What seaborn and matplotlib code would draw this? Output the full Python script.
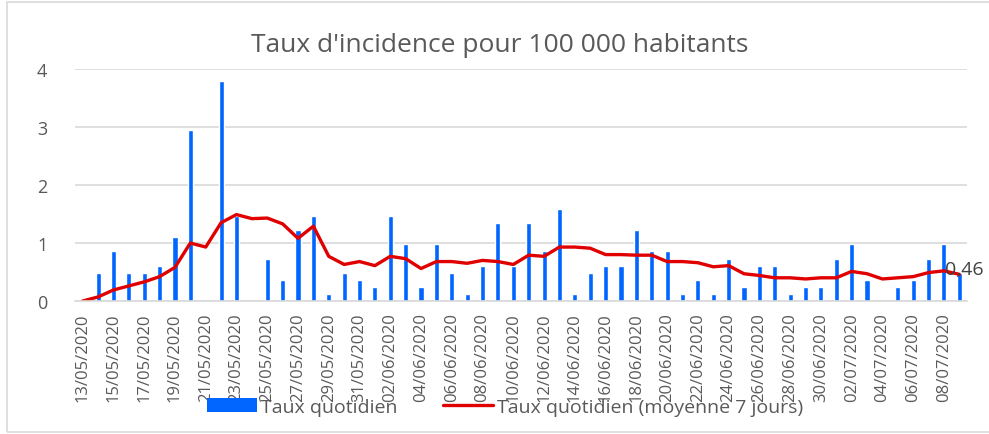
import numpy as np
import pandas as pd
import matplotlib
matplotlib.use("Agg")
import matplotlib.pyplot as plt
import seaborn as sns
from matplotlib.patches import Rectangle, Patch
from matplotlib.lines import Line2D

# dates du 13/05/2020 au 09/07/2020
dates = [d.strftime("%d/%m/%Y") for d in pd.date_range("2020-05-13", "2020-07-09")]

# taux quotidien (pour 100 000 habitants)
taux = [0, 0.49, 0.86, 0.49, 0.49, 0.61, 1.10, 2.94, 0, 3.79,
        1.47, 0, 0.73, 0.37, 1.22, 1.47, 0.12, 0.49, 0.37, 0.24,
        1.47, 0.98, 0.24, 0.98, 0.49, 0.12, 0.61, 1.35, 0.61, 1.35,
        0.86, 1.59, 0.12, 0.49, 0.61, 0.61, 1.22, 0.86, 0.86, 0.12,
        0.37, 0.12, 0.73, 0.24, 0.61, 0.61, 0.12, 0.24, 0.24, 0.73,
        0.98, 0.37, 0, 0.24, 0.37, 0.73, 0.98, 0.49]

# moyenne 7 jours
moyenne = [0, 0.07, 0.19, 0.26, 0.33, 0.42, 0.58, 1.00, 0.93, 1.35,
           1.49, 1.42, 1.43, 1.33, 1.08, 1.29, 0.77, 0.63, 0.68, 0.61,
           0.77, 0.73, 0.56, 0.68, 0.68, 0.65, 0.70, 0.68, 0.63, 0.79,
           0.77, 0.93, 0.93, 0.91, 0.80, 0.80, 0.79, 0.79, 0.68, 0.68,
           0.66, 0.59, 0.61, 0.47, 0.44, 0.40, 0.40, 0.38, 0.40, 0.40,
           0.51, 0.47, 0.38, 0.40, 0.42, 0.49, 0.52, 0.46]

bleu = "#0066ff"
rouge = "#e00000"
gris = "#595959"

sns.set_style("white")
plt.rcParams['font.family'] = ['Open Sans', 'DejaVu Sans']

fig = plt.figure(figsize=(9.89, 4.35), dpi=100)
ax = fig.add_axes([75 / 989, 133 / 435, (967 - 75) / 989, 232 / 435])

df = pd.DataFrame({"date": dates, "taux": taux, "moyenne": moyenne})
n = len(df)

sns.barplot(data=df, x="date", y="taux", color=bleu, saturation=1, width=0.33, ax=ax)
sns.lineplot(x=np.arange(n), y=df["moyenne"], color=rouge, linewidth=2.4, ax=ax)

ax.set_xlim(-0.5, n - 0.5)
ax.set_ylim(0, 4)
ax.set_yticks([0, 1, 2, 3, 4])
ax.yaxis.grid(True, color="#d9d9d9", linewidth=1.2)
ax.set_axisbelow(True)
ax.set_xlabel("")
ax.set_ylabel("")

ax.set_xticks(np.arange(0, n, 2))
ax.set_xticklabels(dates[::2], rotation=90, color=gris, fontsize=12)
ax.set_xticks(np.arange(-0.5, n, 2), minor=True)
ax.tick_params(axis="x", which="major", length=0, pad=8)
ax.tick_params(axis="x", which="minor", length=5, color="#d9d9d9", width=1)
ax.tick_params(axis="y", length=0, pad=20, labelcolor=gris, labelsize=13)

for s in ["top", "right", "left"]:
    ax.spines[s].set_visible(False)
ax.spines["bottom"].set_color("#d9d9d9")
ax.spines["bottom"].set_linewidth(1.2)

# étiquette de la dernière valeur
ax.annotate("0,46", (n - 1, moyenne[-1]), xytext=(-10, 4), textcoords="offset points",
            ha="left", va="center", fontsize=14, color="#404040")

fig.text(500 / 989, 1 - 45 / 435, "Taux d'incidence pour 100 000 habitants",
         ha="center", va="center", fontsize=19, color=gris)

handles = [Patch(facecolor=bleu, edgecolor="none"),
           Line2D([0], [0], color=rouge, linewidth=2.4)]
fig.legend(handles, ["Taux quotidien", "Taux quotidien (moyenne 7 jours)"],
           loc="center", bbox_to_anchor=(505 / 989, 1 - 408 / 435), ncol=2,
           frameon=False, fontsize=14, handlelength=2.6, handleheight=0.7,
           handletextpad=0.2, columnspacing=2.3, labelcolor=gris)

fig.patches.append(Rectangle((7 / 989, 2 / 435), 990 / 989, 430 / 435, transform=fig.transFigure,
                             fill=False, edgecolor="#d9d9d9", linewidth=1.2))

fig.savefig("out.png", dpi=100)
